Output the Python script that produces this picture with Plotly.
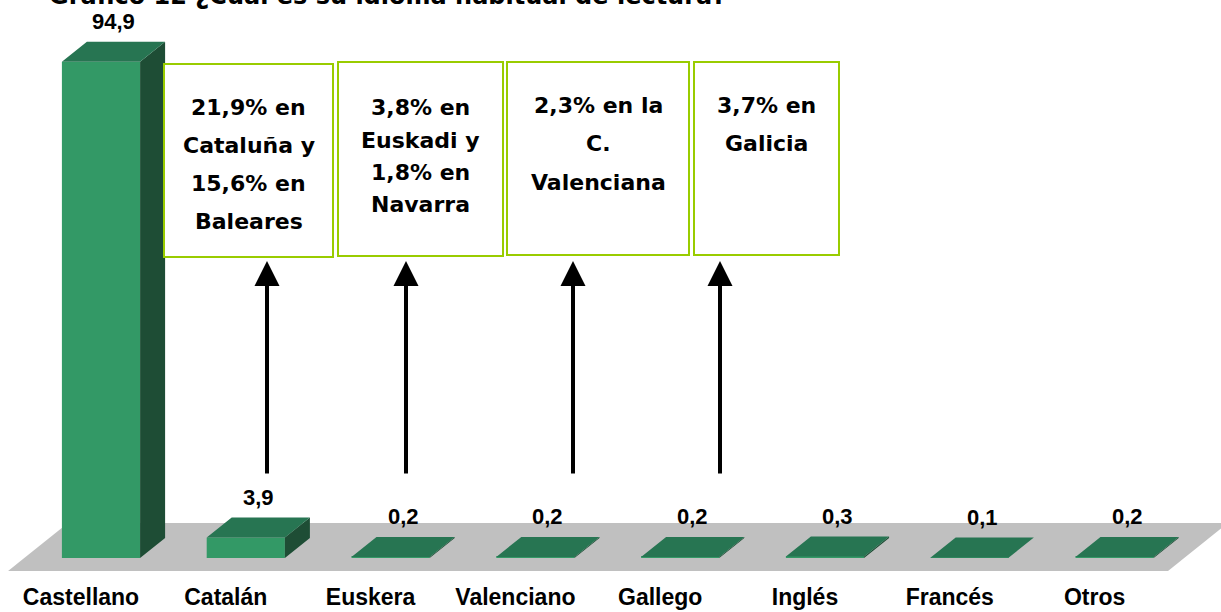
import plotly.graph_objects as go

# Gráfico 12 - idioma habitual de lectura (%)
categories = ["Castellano", "Catalán", "Euskera", "Valenciano", "Gallego", "Inglés", "Francés", "Otros"]
values = [94.9, 3.9, 0.2, 0.2, 0.2, 0.3, 0.1, 0.2]

notes = [
    ["21,9% en", "Cataluña y", "15,6% en", "Baleares"],
    ["3,8% en", "Euskadi y", "1,8% en", "Navarra"],
    ["2,3% en la", "C.", "Valenciana"],
    ["3,7% en", "Galicia"],
]
title_text = "Gráfico 12 ¿Cuál es su idioma habitual de lectura?"

W, H = 1221, 612
B_MARGIN = 41
PLOT_H = H - B_MARGIN

FRONT = "#339966"
TOP = "#277552"
SIDE = "#1e4d35"
FLOOR = "#c0c0c0"
NOTE_BORDER = "#99cc00"

BAR_W = 0.54
DX = 0.1727   # depth offset in x data units
DY = 3.82     # depth offset in y data units


def px(x):
    return x / W


def py(y):
    return 1 - y / PLOT_H


def fmt(v):
    return f"{v:.1f}".replace(".", ",")


idx = list(range(len(categories)))

fig = go.Figure()

# front faces
fig.add_trace(go.Bar(
    x=idx, y=values, width=BAR_W,
    marker=dict(color=FRONT, line=dict(width=0)),
    hoverinfo="skip", showlegend=False,
))

# top + side faces
top_x, top_y, side_x, side_y = [], [], [], []
for i, v in zip(idx, values):
    l, r = i - BAR_W / 2, i + BAR_W / 2
    top_x += [l, r, r + DX, l + DX, l, None]
    top_y += [v, v, v + DY, v + DY, v, None]
    side_x += [r, r + DX, r + DX, r, r, None]
    side_y += [0, DY, v + DY, v, 0, None]

fig.add_trace(go.Scatter(x=side_x, y=side_y, fill="toself", fillcolor=SIDE,
                         mode="lines", line=dict(width=0, color=SIDE),
                         hoverinfo="skip", showlegend=False))
fig.add_trace(go.Scatter(x=top_x, y=top_y, fill="toself", fillcolor=TOP,
                         mode="lines", line=dict(width=0, color=TOP),
                         hoverinfo="skip", showlegend=False))

# grey floor under the bars
fig.add_shape(type="path", xref="x", yref="y", layer="below",
              path="M -0.642 -2.486 L 7.369 -2.486 L 7.783 6.69 L -0.228 6.69 Z",
              fillcolor=FLOOR, line=dict(width=0))

# value labels
for i, v in zip(idx, values):
    fig.add_annotation(x=i + DX / 2, y=v, xref="x", yref="y", text=fmt(v),
                       showarrow=False, yshift=40, yanchor="middle", xanchor="center",
                       font=dict(family="Liberation Sans", size=22, color="black", weight="bold"))

# note boxes
boxes = [(164, 333, 64, 257), (338, 503, 62, 256), (507, 689, 62, 255), (694, 839, 62, 255)]
line_pos = [(107, 38.3), (108, 32.3), (105, 38.5), (105, 38)]
for (x0, x1, y0, y1), lines, (ly, step) in zip(boxes, notes, line_pos):
    fig.add_shape(type="rect", xref="paper", yref="paper",
                  x0=px(x0), x1=px(x1), y0=py(y1), y1=py(y0),
                  line=dict(color=NOTE_BORDER, width=2), fillcolor="white")
    for k, t in enumerate(lines):
        fig.add_annotation(x=px((x0 + x1) / 2), y=py(ly + k * step), xref="paper", yref="paper",
                           text=t, showarrow=False, xanchor="center", yanchor="middle",
                           font=dict(family="DejaVu Sans", size=22, color="black", weight="bold"))

# arrows
for ax_px in [267, 406, 573, 720]:
    fig.add_annotation(x=px(ax_px), y=py(261), xref="paper", yref="paper",
                       text="", showarrow=True, ax=0, ay=214,
                       arrowhead=2, arrowsize=1.25, arrowwidth=4, arrowcolor="black")

# title, cut at the top of the picture
fig.add_annotation(x=px(728), y=1, xref="paper", yref="paper", text=title_text,
                   showarrow=False, xanchor="right", yanchor="bottom", yshift=-12,
                   font=dict(family="DejaVu Sans", size=24, color="black", weight="bold"))

fig.update_layout(
    template="none",
    width=W, height=H,
    margin=dict(l=0, r=0, t=0, b=B_MARGIN),
    plot_bgcolor="white", paper_bgcolor="white",
    showlegend=False,
    xaxis=dict(range=[-0.6975, 7.735], tickvals=idx, ticktext=categories,
               showgrid=False, zeroline=False, showline=False, automargin=False,
               ticks="", ticklabelstandoff=10, ticklabelshift=-20,
               tickfont=dict(family="Liberation Sans", size=23, color="black", weight="bold")),
    yaxis=dict(range=[-2.486, 106.69], visible=False, showgrid=False, zeroline=False),
)

fig.write_html("out.html", config={"displayModeBar": False},
               post_script="document.body.style.margin='0';")
